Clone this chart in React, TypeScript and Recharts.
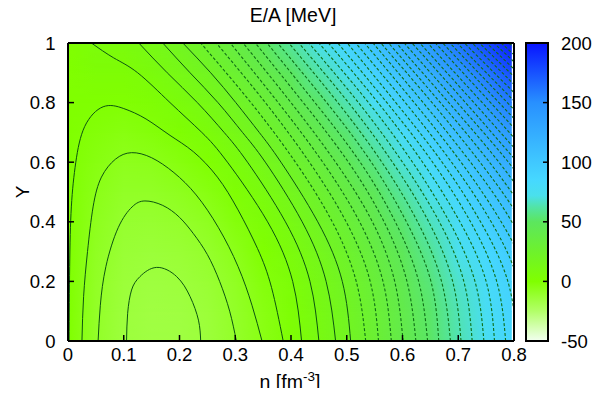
import React from 'react';
import { ComposedChart, Scatter, Line, XAxis, YAxis } from 'recharts';

const FONT = '"Liberation Sans", Arial, Helvetica, sans-serif';

// colour map samples: E/A [MeV] at n (columns) and Y (rows)
const densities = [0, 0.05, 0.1, 0.15, 0.2, 0.25, 0.3, 0.35, 0.4, 0.45, 0.5, 0.55, 0.6, 0.65, 0.7, 0.75, 0.8];
const fractions = [0, 0.1, 0.2, 0.3, 0.4, 0.5, 0.6, 0.7, 0.8, 0.9, 1];
const energyRows = [
  [0, -9.5, -14.7, -16.2, -15.9, -14.2, -10.2, -4.8, 2.1, 10, 18.7, 28.5, 39.8, 51.2, 63.7, 76, 88.5],
  [0, -9.3, -14.5, -15.9, -15.6, -13.8, -9.7, -4.3, 2.7, 10.7, 19.4, 29.3, 40.6, 52.1, 64.7, 77, 89.6],
  [0, -8.9, -13.8, -15.1, -14.5, -12.6, -8.3, -2.7, 4.5, 12.6, 21.5, 31.6, 43.2, 54.8, 67.6, 80.1, 92.9],
  [0, -8.1, -12.7, -13.6, -12.8, -10.5, -6.0, 0, 7.4, 15.9, 25.1, 35.5, 47.4, 59.4, 72.4, 85.3, 98.4],
  [0, -7.0, -11.2, -11.6, -10.3, -7.6, -2.7, 3.7, 11.5, 20.4, 30.1, 40.9, 53.2, 65.7, 79.2, 92.6, 106.1],
  [0, -5.6, -9.2, -9.1, -7.2, -4.0, 1.6, 8.5, 16.9, 26.3, 36.5, 47.9, 60.8, 73.8, 88, 101.9, 116],
  [0, -3.9, -6.8, -5.9, -3.3, 0.6, 6.7, 14.3, 23.3, 33.4, 44.3, 56.4, 70, 83.8, 98.6, 113.3, 128.1],
  [0, -1.9, -3.9, -2.2, 1.3, 5.9, 12.8, 21.2, 31, 41.9, 53.5, 66.5, 81, 95.6, 111.2, 126.7, 142.4],
  [0, 0.4, -0.6, 2.0, 6.5, 12, 19.9, 29.1, 39.9, 51.6, 64.1, 78.1, 93.6, 109.1, 125.8, 142.2, 158.9],
  [0, 3.1, 3.1, 6.9, 12.5, 19, 27.9, 38.1, 49.9, 62.7, 76.2, 91.3, 107.8, 124.5, 142.3, 159.8, 177.6],
  [0, 6.0, 7.3, 12.3, 19.1, 26.8, 36.8, 48.2, 61.1, 75, 89.7, 106, 123.8, 141.7, 160.7, 179.5, 198.5],
];
const heatEdge = 0.796;

const xTicks = [0, 0.1, 0.2, 0.3, 0.4, 0.5, 0.6, 0.7, 0.8];
const yTicks = [0, 0.2, 0.4, 0.6, 0.8, 1];
const barTicks = [-50, 0, 50, 100, 150, 200];
const barTop = [{ n: 0, v: 200 }];

const paletteValues = [-50, -25, 0, 25, 50, 62, 72, 85, 100, 150, 200];
const paletteColors = ['#f2fff0', '#b2ff68', '#80ff00', '#6ef22c', '#5ce65e', '#52e4a4', '#4ae0ec', '#46d8ff', '#40c8ff', '#2890ff', '#0814ff'];

// open contours: n where each level crosses the rows Y = contourRows
const contourRows = [0, 0.2, 0.4, 0.6, 0.7, 0.8, 0.9, 0.95, 1];
const openLevels = [5, 10, 15, 20, 25, 30, 35, 40, 45, 50, 55, 60, 65, 70, 75, 80, 85, 90, 95, 100,
  105, 110, 115, 120, 125, 130, 135, 140, 145, 150, 155, 160, 165, 170, 175, 180, 185, 190, 195];
const openContours: (number | null)[][] = [
  [0.419, 0.403, 0.358, 0.286, 0.240, 0.183, 0.125, 0.082, 0.042],
  [0.450, 0.434, 0.390, 0.322, 0.280, 0.232, 0.178, null, 0.127],
  [0.480, 0.463, 0.420, 0.354, 0.313, 0.269, 0.219, null, 0.170],
  [0.507, 0.492, 0.448, 0.382, 0.343, 0.301, 0.256, null, 0.206],
  [0.534, 0.517, 0.474, 0.408, null, 0.328, null, null, 0.238],
  [0.557, 0.542, 0.499, 0.433, null, 0.354, null, null, 0.266],
  [0.580, 0.565, 0.523, 0.457, null, 0.377, null, null, 0.291],
  [0.601, 0.586, 0.546, 0.480, null, 0.400, null, null, 0.314],
  [0.624, 0.608, 0.567, 0.503, null, 0.422, null, null, 0.336],
  [0.645, 0.629, 0.587, 0.524, null, 0.443, null, null, 0.357],
  [0.665, 0.651, 0.607, 0.544, null, 0.464, null, null, 0.376],
  [0.686, 0.670, 0.627, 0.563, null, 0.484, null, null, 0.396],
  [0.705, 0.690, 0.647, 0.582, null, 0.503, null, null, 0.414],
  [0.725, 0.710, 0.666, 0.600, null, 0.521, null, null, 0.432],
  [0.746, 0.730, 0.684, 0.618, null, 0.539, null, null, 0.450],
  [0.765, 0.750, 0.703, 0.636, null, 0.556, null, null, 0.467],
  [0.785, 0.769, 0.722, 0.654, null, 0.572, null, null, 0.484],
  [0.805, 0.789, 0.740, 0.671, null, 0.588, null, null, 0.501],
  [0.825, 0.808, 0.759, 0.688, null, 0.605, null, null, 0.516],
  [0.845, 0.828, 0.777, 0.705, null, 0.621, null, null, 0.532],
  [null, 0.847, 0.796, 0.722, null, 0.637, null, null, 0.547],
  [null, 0.867, 0.814, 0.739, null, 0.653, null, null, 0.561],
  [null, null, 0.833, 0.756, null, 0.668, null, null, 0.575],
  [null, null, 0.851, 0.773, null, 0.683, null, null, 0.589],
  [null, null, 0.870, 0.790, null, 0.698, null, null, 0.603],
  [null, null, null, 0.806, null, 0.713, null, null, 0.617],
  [null, null, null, 0.823, null, 0.728, null, null, 0.631],
  [null, null, null, 0.840, null, 0.743, null, null, 0.645],
  [null, null, null, 0.857, null, 0.758, null, null, 0.659],
  [null, null, null, 0.874, null, 0.773, null, null, 0.672],
  [null, null, null, 0.891, null, 0.788, null, null, 0.685],
  [null, null, null, 0.908, null, 0.803, null, null, 0.698],
  [null, null, null, null, null, 0.818, null, null, 0.711],
  [null, null, null, null, null, 0.833, null, null, 0.725],
  [null, null, null, null, null, 0.848, null, null, 0.738],
  [null, null, null, null, null, 0.863, null, null, 0.751],
  [null, null, null, null, null, 0.878, null, null, 0.764],
  [null, null, null, null, null, 0.893, null, null, 0.777],
  [null, null, null, null, null, 0.908, null, null, 0.791],
];

// closed contours around the minimum near n = 0.16
const closedLevels = [-15, -10, -5, 0];
const closedN = [
  [0.105, 0.107, 0.114, 0.129, 0.159, 0.195, 0.219, 0.234, 0.238],
  [0.054, 0.058, 0.068, 0.09, 0.115, 0.138, 0.17, 0.2, 0.225, 0.25, 0.272, 0.29, 0.302],
  [0.025, 0.028, 0.035, 0.045, 0.06, 0.085, 0.114, 0.15, 0.19, 0.23, 0.27, 0.305, 0.33, 0.348],
  [0.002, 0.003, 0.006, 0.014, 0.03, 0.063, 0.1, 0.14, 0.183, 0.225, 0.268, 0.305, 0.34, 0.365, 0.386],
];
const closedY = [
  [0, 0.093, 0.171, 0.216, 0.247, 0.216, 0.149, 0.07, 0],
  [0, 0.12, 0.25, 0.38, 0.45, 0.47, 0.455, 0.415, 0.36, 0.29, 0.2, 0.1, 0],
  [0, 0.15, 0.3, 0.45, 0.55, 0.61, 0.632, 0.615, 0.565, 0.49, 0.38, 0.25, 0.12, 0],
  [0, 0.25, 0.45, 0.6, 0.72, 0.786, 0.78, 0.745, 0.69, 0.635, 0.55, 0.44, 0.31, 0.18, 0],
];

// layout of the main plot inside its 600x380 svg
const PLOT_LEFT = 60;
const PLOT_W = 446;
const PLOT_H = 298;
const BAND_H = PLOT_H * 0.1;
const BAR_W = 22;

const hex = (c: string) => [1, 3, 5].map((i) => parseInt(c.slice(i, i + 2), 16));

function energyColor(v: number) {
  let k = 0;
  while (k < paletteValues.length - 2 && v > paletteValues[k + 1]) k++;
  const t = Math.max(0, Math.min(1, (v - paletteValues[k]) / (paletteValues[k + 1] - paletteValues[k])));
  const a = hex(paletteColors[k]);
  const b = hex(paletteColors[k + 1]);
  const rgb = a.map((x, i) => Math.round(x + (b[i] - x) * t));
  return `rgb(${rgb.join(',')})`;
}

const HeatBand = (props: any) => {
  const { cx, cy, payload } = props;
  if (cx == null || cy == null) return <g />;
  const i = payload.band;
  const w = PLOT_W * heatEdge / 0.8;
  return (
    <g>
      <rect x={cx} y={cy - BAND_H - 0.5} width={w} height={BAND_H + 1} fill={`url(#heatRow${i})`} />
      <rect x={cx} y={cy - BAND_H - 0.5} width={w} height={BAND_H + 1} fill={`url(#heatRow${i + 1})`} mask="url(#fadeUp)" />
    </g>
  );
};

// colour bar body, anchored at its top-left point (n = 0, v = 200)
const ColorBar = (props: any) => {
  const { cx, cy } = props;
  if (cx == null || cy == null) return <g />;
  return <rect x={cx} y={cy} width={BAR_W} height={PLOT_H} fill="url(#barGrad)" stroke="#000" strokeWidth={2} />;
};

const noTick = () => <g />;
const tickFont = { fontSize: 18.5, fill: '#000', fontFamily: FONT };
const frameLine = { stroke: '#000', strokeWidth: 2 };
const tickStroke = { stroke: '#000', strokeWidth: 1.5 };
const solidColor = '#0b5410';
const dashColor = '#0f6e16';

export default function App() {
  const bandData = fractions.slice(0, -1).map((y, i) => ({ n: 0, y, band: i }));
  const barStops = paletteValues.map((v, i) => ({ v, color: paletteColors[i] })).reverse();

  return (
    <div style={{ position: 'relative', width: 600, height: 380, fontFamily: FONT }}>
      <div style={{ position: 'absolute', left: 0, top: 0 }}>
        <ComposedChart width={600} height={380} margin={{ top: 34, right: 93, bottom: 17, left: 20 }}>
          <defs>
            {energyRows.map((row, r) => (
              <linearGradient key={r} id={`heatRow${r}`} gradientUnits="userSpaceOnUse" x1={PLOT_LEFT} y1={0} x2={PLOT_LEFT + PLOT_W} y2={0}>
                {row.map((v, c) => (
                  <stop key={c} offset={densities[c] / 0.8} stopColor={energyColor(v)} />
                ))}
              </linearGradient>
            ))}
            <linearGradient id="fadeUpGrad" x1={0} y1={0} x2={0} y2={1}>
              <stop offset={0} stopColor="#fff" />
              <stop offset={1} stopColor="#000" />
            </linearGradient>
            <mask id="fadeUp" maskContentUnits="objectBoundingBox">
              <rect x={0} y={0} width={1} height={1} fill="url(#fadeUpGrad)" />
            </mask>
          </defs>

          <Scatter data={bandData} shape={HeatBand} isAnimationActive={false} zIndex={50} />

          {closedLevels.map((lv, i) => (
            <Line
              key={`c${lv}`}
              data={closedN[i].map((n, k) => ({ n, y: closedY[i][k] }))}
              dataKey="y"
              type="natural"
              stroke={solidColor}
              strokeWidth={1}
              dot={false}
              activeDot={false}
              isAnimationActive={false}
            />
          ))}
          {openLevels.map((lv, i) => (
            <Line
              key={`o${lv}`}
              data={contourRows
                .map((y, k) => ({ n: openContours[i][k], y }))
                .filter((p) => p.n != null)}
              dataKey="y"
              type="natural"
              stroke={lv > 20 ? dashColor : solidColor}
              strokeWidth={lv > 20 ? 1.1 : 1}
              strokeDasharray={lv > 20 ? '3 2' : undefined}
              dot={false}
              activeDot={false}
              isAnimationActive={false}
            />
          ))}

          <XAxis
            type="number"
            dataKey="n"
            domain={[0, 0.8]}
            ticks={xTicks}
            interval={0}
            allowDataOverflow
            height={30}
            tickSize={-6}
            tickMargin={12.5}
            tick={tickFont}
            axisLine={frameLine}
            tickLine={tickStroke}
          />
          <XAxis
            xAxisId="top"
            orientation="top"
            type="number"
            domain={[0, 0.8]}
            ticks={xTicks}
            interval={0}
            height={1}
            tickSize={-6}
            tick={noTick}
            axisLine={frameLine}
            tickLine={tickStroke}
          />
          <YAxis
            type="number"
            dataKey="y"
            domain={[0, 1]}
            ticks={yTicks}
            interval={0}
            allowDataOverflow
            width={40}
            tickSize={-6}
            tickMargin={18.5}
            tick={tickFont}
            axisLine={frameLine}
            tickLine={tickStroke}
          />
          <YAxis
            yAxisId="right"
            orientation="right"
            type="number"
            domain={[0, 1]}
            ticks={yTicks}
            interval={0}
            width={1}
            tickSize={-6}
            tick={noTick}
            axisLine={frameLine}
            tickLine={tickStroke}
          />
        </ComposedChart>
      </div>

      <div style={{ position: 'absolute', left: 500, top: 0 }}>
        <ComposedChart width={100} height={380} margin={{ top: 35, right: 10, bottom: 47, left: 17 }}>
          <defs>
            <linearGradient id="barGrad" x1={0} y1={0} x2={0} y2={1}>
              {barStops.map((s) => (
                <stop key={s.v} offset={(200 - s.v) / 250} stopColor={s.color} />
              ))}
            </linearGradient>
          </defs>
          <Scatter data={barTop} yAxisId="barR" shape={ColorBar} isAnimationActive={false} zIndex={50} />
          <XAxis type="number" dataKey="n" domain={[0, 1]} hide />
          <YAxis
            yAxisId="barL"
            type="number"
            dataKey="v"
            domain={[-50, 200]}
            ticks={barTicks}
            interval={0}
            width={1}
            tickSize={-5}
            tick={noTick}
            axisLine={false}
            tickLine={tickStroke}
          />
          <YAxis
            yAxisId="barR"
            orientation="right"
            type="number"
            dataKey="v"
            domain={[-50, 200]}
            ticks={barTicks}
            interval={0}
            width={50}
            tickSize={-5}
            tickMargin={18}
            tick={tickFont}
            axisLine={false}
            tickLine={tickStroke}
          />
        </ComposedChart>
      </div>

      <svg
        width={616}
        height={396}
        style={{ position: 'absolute', left: -8, top: -8, pointerEvents: 'none' }}
        fontFamily={FONT}
        fill="#000"
      >
        <text x={293} y={22} textAnchor="middle" fontSize={19.5}>E/A [MeV]</text>
        <text transform="translate(28.5,192) rotate(-90)" textAnchor="middle" fontSize={19}>Y</text>
        <text x={290} y={389} textAnchor="middle" fontSize={19.5}>
          n [fm<tspan dy={-8} fontSize={13.5}>-3</tspan><tspan dy={8}>]</tspan>
        </text>
      </svg>
    </div>
  );
}
